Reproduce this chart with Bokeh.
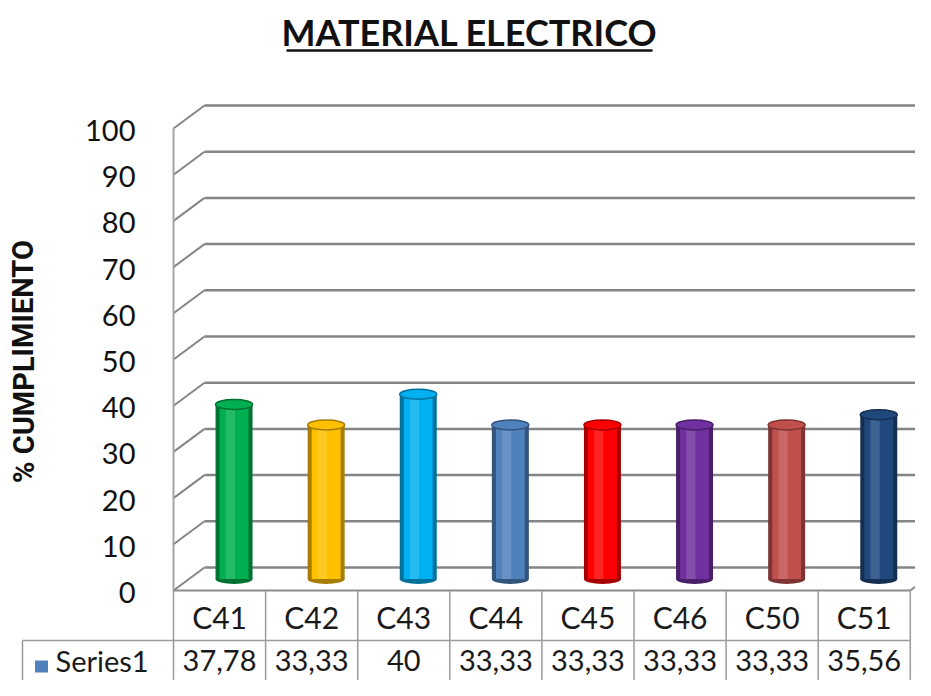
from bokeh.plotting import figure
from bokeh.models import Range1d, ColumnDataSource
from bokeh.core.properties import value
from bokeh.embed import file_html
from bokeh.resources import INLINE

# ---------------- data ----------------
categories = ["C41", "C42", "C43", "C44", "C45", "C46", "C50", "C51"]
values = [37.78, 33.33, 40, 33.33, 33.33, 33.33, 33.33, 35.56]
value_labels = ["37,78", "33,33", "40", "33,33", "33,33", "33,33", "33,33", "35,56"]
bar_colors = ["#00b050", "#ffc000", "#00b0f0", "#4f81bd", "#ff0000", "#7030a0", "#c0504d", "#1f497d"]
y_ticks = [0, 10, 20, 30, 40, 50, 60, 70, 80, 90, 100]
series_name = "Series1"
series_color = "#4f81bd"
title_text = "MATERIAL ELECTRICO"
y_label = "% CUMPLIMIENTO"

# ---------------- geometry (picture px -> data units) ----------------
PXX, PXY = 92.1, 4.62          # px per category, px per percent
OX, OY = 173.0, 590.0          # picture position of (0, 0)
W, H = 915, 680


def X(px):
    return (px - OX) / PXX


def Y(py):
    return (OY - py) / PXY


dxb, dyb = 31 / PXX, 23 / PXY      # back wall offset
dxm, dym = 14.5 / PXX, 11.5 / PXY  # bar (mid depth) offset
n = len(categories)

p = figure(width=W, height=H, output_backend="svg", toolbar_location=None,
           x_range=Range1d(X(0), X(W)), y_range=Range1d(Y(H), Y(0)),
           x_axis_type=None, y_axis_type=None, min_border=0)
p.grid.visible = False
p.outline_line_color = None
p.background_fill_color = "white"

grid_col = "#858585"
# back wall gridlines and the diagonals to the front axis
p.segment(x0=[dxb] * len(y_ticks), y0=[t + dyb for t in y_ticks],
          x1=[n + dxb + 1] * len(y_ticks), y1=[t + dyb for t in y_ticks],
          line_color=grid_col, line_width=2.5)
p.segment(x0=[0] * len(y_ticks), y0=y_ticks,
          x1=[dxb] * len(y_ticks), y1=[t + dyb for t in y_ticks],
          line_color=grid_col, line_width=2)
# front axis edge
p.segment(x0=[0], y0=[0], x1=[0], y1=[y_ticks[-1]], line_color="#a6a6a6", line_width=2)
# floor edges
p.segment(x0=[0, n], y0=[0, 0], x1=[n, n + dxb], y1=[0, dyb], line_color="#8c8c8c", line_width=2)

# tick labels
p.text(x=[X(135)] * len(y_ticks), y=[t - 2 / PXY for t in y_ticks], text=[str(t) for t in y_ticks],
       text_align="right", text_baseline="middle", text_font=value("Lato"),
       text_font_size="29px", text_color="#111111")

# axis label
p.text(x=[X(23)], y=[Y(361)], text=[y_label], angle=1.5708, text_align="center",
       text_baseline="middle", text_font=value("Roboto"), text_font_style="bold",
       text_font_size="29px", text_color="#111111")

# title
p.text(x=[X(469)], y=[Y(31)], text=[title_text], text_align="center",
       text_baseline="middle", text_font=value("Lato"), text_font_style="bold",
       text_font_size="36px", text_color="#111111")
p.segment(x0=[X(286)], y0=[Y(50)], x1=[X(652)], y1=[Y(50)], line_color="#111111", line_width=2.5)


# ---------------- cylinders ----------------
def mix(hexc, other, f):
    a = [int(hexc[i:i + 2], 16) for i in (1, 3, 5)]
    b = [int(other[i:i + 2], 16) for i in (1, 3, 5)]
    return "#%02x%02x%02x" % tuple(int(round(a[k] * (1 - f) + b[k] * f)) for k in range(3))


dark = [mix(c, "#000000", 0.35) for c in bar_colors]
light = [mix(c, "#ffffff", 0.35) for c in bar_colors]
src = ColumnDataSource(dict(
    x=[i + 0.5 + dxm for i in range(n)],
    xh=[i + 0.5 + dxm - 0.04 for i in range(n)],
    bottom=[dym] * n,
    top=[v + dym for v in values],
    color=bar_colors, dark=dark, light=light,
))
bw = 37 / PXX
eh = 10 / PXY
p.ellipse(x="x", y="bottom", width=bw, height=eh, source=src, fill_color="dark", line_color=None)
p.vbar(x="x", bottom="bottom", top="top", width=bw, source=src, fill_color="dark", line_color=None)
p.vbar(x="x", bottom="bottom", top="top", width=bw * 0.78, source=src, fill_color="color", line_color=None)
p.vbar(x="xh", bottom="bottom", top="top", width=bw * 0.25, source=src, fill_color="light",
       fill_alpha=0.4, line_color=None)
p.ellipse(x="x", y="top", width=bw, height=eh, source=src, fill_color="color", line_color="dark",
          line_width=1.5)

# ---------------- data table ----------------
tbl_col = "#9a9a9a"
row_div = Y(640)
row_bot = Y(720)
left_cell = X(22)
p.segment(x0=list(range(n + 1)), y0=[0] * (n + 1), x1=list(range(n + 1)), y1=[row_div] * (n + 1),
          line_color=tbl_col, line_width=1.5)
p.segment(x0=[left_cell] + list(range(n + 1)), y0=[row_div] * (n + 2),
          x1=[left_cell] + list(range(n + 1)), y1=[row_bot] * (n + 2),
          line_color=tbl_col, line_width=1.5)
p.segment(x0=[left_cell], y0=[row_div], x1=[n], y1=[row_div], line_color=tbl_col, line_width=1.5)

p.text(x=[i + 0.5 for i in range(n)], y=[Y(616)] * n, text=categories, text_align="center",
       text_baseline="middle", text_font=value("Lato"), text_font_size="30px", text_color="#1a1a1a")
p.text(x=[i + 0.5 for i in range(n)], y=[Y(660)] * n, text=value_labels, text_align="center",
       text_baseline="middle", text_font=value("Lato"), text_font_size="29px", text_color="#1a1a1a")
p.rect(x=[X(41)], y=[Y(666)], width=13 / PXX, height=12 / PXY, fill_color=series_color,
       line_color=None)
p.text(x=[X(55)], y=[Y(660)], text=[series_name], text_align="left", text_baseline="middle",
       text_font=value("Lato"), text_font_size="29px", text_color="#1a1a1a")

open("out.html", "w").write(file_html(p, INLINE))
